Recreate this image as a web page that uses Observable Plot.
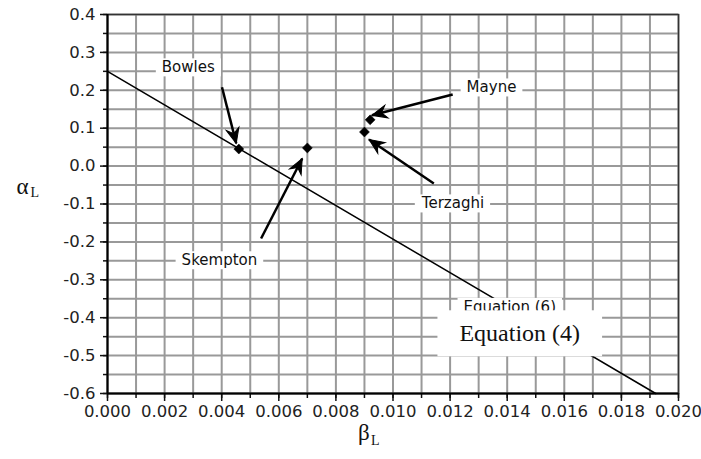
<!DOCTYPE html>
<html>
<head>
<meta charset="utf-8">
<script src="https://cdn.jsdelivr.net/npm/d3@7"></script>
<script src="https://cdn.jsdelivr.net/npm/@observablehq/plot@0.6"></script>
<style>
  html, body { margin: 0; padding: 0; background: white; }
</style>
</head>
<body>
<script>
// ---- data ----
const pointNames = ["Bowles", "Skempton", "Terzaghi", "Mayne"];
const pointBeta  = [0.0046, 0.0070, 0.0090, 0.0092];
const pointAlpha = [0.045, 0.048, 0.090, 0.122];

// Equation line end points
const lineBeta  = [0.000, 0.0192];
const lineAlpha = [0.250, -0.600];

// annotation labels (centres) and arrows
const labelNames = ["Bowles", "Mayne", "Terzaghi", "Skempton"];
const labelBeta  = [0.00283, 0.01345, 0.01210, 0.00392];
const labelAlpha = [0.260, 0.207, -0.099, -0.249];

const arrowBeta1  = [0.00401, 0.01209, 0.01143, 0.00538];
const arrowAlpha1 = [0.208, 0.189, -0.046, -0.191];
const arrowBeta2  = [0.00451, 0.00926, 0.00916, 0.00682];
const arrowAlpha2 = [0.060, 0.134, 0.070, 0.020];

const eq6Label = ["Equation (6)"];
const eq6Pos = [0.01409, -0.372];
const eq4Label = ["Equation (4)"];
const eq4Pos = [0.01444, -0.442];

// ticks
const xTicks = [0.000, 0.002, 0.004, 0.006, 0.008, 0.010, 0.012, 0.014, 0.016, 0.018, 0.020];
const xTickLabels = ["0.000", "0.002", "0.004", "0.006", "0.008", "0.010", "0.012", "0.014", "0.016", "0.018", "0.020"];
const xMinor = d3.range(0, 21).map(i => i / 1000);
const yTicks = [-0.6, -0.5, -0.4, -0.3, -0.2, -0.1, 0.0, 0.1, 0.2, 0.3, 0.4];
const yTickLabels = ["-0.6", "-0.5", "-0.4", "-0.3", "-0.2", "-0.1", "0.0", "0.1", "0.2", "0.3", "0.4"];
const yMinor = d3.range(-12, 9).map(i => i * 0.05);

// ---- layout ----
const W = 701, H = 459, mL = 107, mR = 23, mT = 14, mB = 66;
const xDomain = [0, 0.020], yDomain = [-0.6, 0.4];
const sx = Plot.scale({x: {domain: xDomain, range: [mL, W - mR]}});
const sy = Plot.scale({y: {domain: yDomain, range: [H - mB, mT]}});

// ---- tables ----
const points = pointNames.map((n, i) => ({name: n, x: pointBeta[i], y: pointAlpha[i]}));
const line = lineBeta.map((x, i) => ({x, y: lineAlpha[i]}));
const labels = labelNames.map((n, i) => ({name: n, x: labelBeta[i], y: labelAlpha[i]}));
const arrows = arrowBeta1.map((x1, i) => {
  const x2 = arrowBeta2[i], y1 = arrowAlpha1[i], y2 = arrowAlpha2[i];
  const dx = sx.apply(x2) - sx.apply(x1), dy = sy.apply(y2) - sy.apply(y1);
  return {x1, y1, x2, y2, angle: Math.atan2(dx, -dy) * 180 / Math.PI};
});

// notched arrowhead, tip at origin pointing up
const arrowHead = {
  draw(context) {
    context.moveTo(0, 0);
    context.lineTo(6.5, 15);
    context.lineTo(0, 10);
    context.lineTo(-6.5, 15);
    context.closePath();
  }
};

const sans = "DejaVu Sans";
const serif = "Liberation Serif";

const chart = Plot.plot({
  width: W,
  height: H,
  marginLeft: mL,
  marginRight: mR,
  marginTop: mT,
  marginBottom: mB,
  style: {fontFamily: sans, fontSize: "16px", color: "#222", background: "white"},
  x: {domain: xDomain},
  y: {domain: yDomain},
  marks: [
    Plot.gridX(xMinor, {stroke: "#999", strokeOpacity: 1, strokeWidth: 2}),
    Plot.gridY(yMinor, {stroke: "#999", strokeOpacity: 1, strokeWidth: 2}),
    Plot.frame({stroke: "#333", strokeWidth: 1.5}),
    Plot.axisX(xMinor, {tickSize: 5, tickFormat: () => "", stroke: "#111", strokeWidth: 1.5, label: null}),
    Plot.axisX(xTicks, {tickSize: 8, tickPadding: 4, tickFormat: (d, i) => xTickLabels[i], stroke: "#111", strokeWidth: 1.5, label: null, fontSize: 16.5}),
    Plot.axisY(yMinor, {tickSize: 4, tickFormat: () => "", stroke: "#111", strokeWidth: 1.5, label: null}),
    Plot.axisY(yTicks, {tickSize: 7, tickPadding: 5, tickFormat: (d, i) => yTickLabels[i], stroke: "#111", strokeWidth: 1.5, label: null, fontSize: 16.5}),
    Plot.ruleX([0], {stroke: "black", strokeWidth: 2}),
    Plot.ruleY([-0.6], {stroke: "black", strokeWidth: 2}),
    Plot.line(line, {x: "x", y: "y", stroke: "black", strokeWidth: 1.5}),
    Plot.dot(points, {x: "x", y: "y", symbol: "diamond2", r: 4.5, fill: "black", stroke: "black", strokeWidth: 0.5}),
    Plot.link(arrows, {x1: "x1", y1: "y1", x2: "x2", y2: "y2", stroke: "black", strokeWidth: 2.5}),
    Plot.dot(arrows, {x: "x2", y: "y2", rotate: "angle", symbol: arrowHead, fill: "black", stroke: "black", strokeWidth: 1, strokeLinejoin: "miter"}),
    Plot.text(labels, {x: "x", y: "y", text: "name", fontFamily: sans, fontSize: 15, fill: "#111"}),
    Plot.text(eq6Label, {x: () => eq6Pos[0], y: () => eq6Pos[1], text: d => d, fontFamily: sans, fontSize: 15, fill: "#111"}),
    Plot.text(eq4Label, {x: () => eq4Pos[0], y: () => eq4Pos[1], text: d => d, fontFamily: serif, fontSize: 24, fill: "#111"}),
    // axis titles with subscripts
    Plot.text(["α"], {frameAnchor: "left", text: d => d, textAnchor: "start", dx: -91, dy: -17, fontFamily: serif, fontSize: 23, fill: "#111"}),
    Plot.text(["L"], {frameAnchor: "left", text: d => d, textAnchor: "start", dx: -77, dy: -11, fontFamily: serif, fontSize: 14, fill: "#111"}),
    Plot.text(["β"], {frameAnchor: "bottom", text: d => d, textAnchor: "start", dx: -35, dy: 46, fontFamily: serif, fontSize: 23, fill: "#111"}),
    Plot.text(["L"], {frameAnchor: "bottom", text: d => d, textAnchor: "start", dx: -22, dy: 51, fontFamily: serif, fontSize: 14, fill: "#111"})
  ]
});

document.body.appendChild(chart);

// white boxes behind annotation labels
const ns = "http://www.w3.org/2000/svg";
const boxPad = new Map([...labelNames, ...eq6Label].map(n => [n, [6, 0]]).concat(eq4Label.map(n => [n, [22, 10]])));
chart.querySelectorAll("text").forEach(t => {
  const pad = boxPad.get(t.textContent);
  if (!pad) return;
  const b = t.getBBox();
  const r = document.createElementNS(ns, "rect");
  r.setAttribute("x", b.x - pad[0]);
  r.setAttribute("y", b.y - pad[1]);
  r.setAttribute("width", b.width + 2 * pad[0]);
  r.setAttribute("height", b.height + 2 * pad[1]);
  r.setAttribute("fill", "white");
  r.setAttribute("stroke", "none");
  const tr = t.getAttribute("transform");
  if (tr) r.setAttribute("transform", tr);
  t.parentNode.insertBefore(r, t);
});
</script>
</body>
</html>
